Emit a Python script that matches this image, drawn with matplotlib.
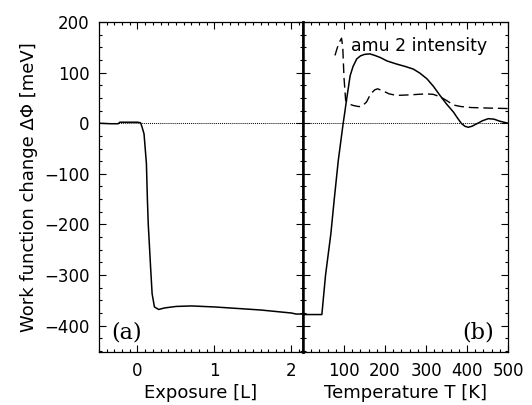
import matplotlib
matplotlib.use("Agg")
import matplotlib.pyplot as plt
from matplotlib.ticker import MultipleLocator

plt.rcParams['font.family'] = ['DejaVu Sans']

# Panel (a): work function change vs exposure
exposure = [-0.5, -0.35, -0.25, -0.23, 0.0, 0.04, 0.06, 0.085, 0.116, 0.129, 0.14,
            0.17, 0.19, 0.22, 0.275, 0.35, 0.5, 0.7, 1.0, 1.3, 1.6, 1.8, 2.0, 2.06, 2.15]
phi_a = [0, -1, -1, 2, 2, 1, -8, -21, -80, -152, -200,
         -284, -337, -363, -368, -365, -362, -361, -363, -366, -369, -372, -375, -377, -377]

# Panel (b): work function change vs temperature
temperature = [0, 46, 55, 68, 76, 86, 98, 102, 106, 115, 122, 131, 140, 150, 163, 175, 188,
               205, 228, 250, 269, 285, 302, 318, 334, 350, 367, 377, 387,
               395, 403, 412, 424, 438, 452, 466, 480, 490, 500]
phi_b = [-378, -378, -300, -218, -152, -74, 0, 22, 45, 94, 112, 127, 133, 136, 137, 134, 130,
         123, 117, 112, 107, 99, 88, 73, 55, 38, 22, 10, -1,
         -6, -8, -6, -1, 5, 9, 8, 4, 2, 0]

# amu 2 intensity (dashed)
temperature_amu = [78, 84, 90, 94, 97, 100, 104, 112, 123, 135, 143, 155, 165, 175, 182,
                   195, 210, 228, 260, 300, 318, 335, 350, 367, 385, 410, 450, 500]
amu2 = [134, 150, 162, 168, 150, 90, 45, 38, 35, 33, 33, 42, 58, 66, 68,
        64, 58, 55, 56, 58, 57, 52, 45, 36, 33, 31, 30, 29]

fig = plt.figure(figsize=(5.32, 4.05), dpi=100)
axa = fig.add_axes([99/532, 1-352/405, 204/532, 330/405])
axb = fig.add_axes([303/532, 1-352/405, 205/532, 330/405])

for ax in (axa, axb):
    ax.set_ylim(-452, 200)
    ax.axhline(0, color='black', lw=0.7, ls=(0, (1, 1)))
    ax.yaxis.set_major_locator(MultipleLocator(100))
    ax.yaxis.set_minor_locator(MultipleLocator(25))
    ax.tick_params(which='both', direction='in', top=True, right=True, labelsize=12,
                   width=0.8, pad=7)
    ax.tick_params(which='major', length=5)
    ax.tick_params(which='minor', length=2.5)
    for s in ax.spines.values():
        s.set_linewidth(0.9)

axa.plot(exposure, phi_a, color='black', lw=1.1)
axa.set_xlim(-0.5, 2.15)
axa.xaxis.set_major_locator(MultipleLocator(1))
axa.xaxis.set_minor_locator(MultipleLocator(0.1))
axa.set_xlabel('Exposure [L]', fontsize=13, labelpad=3)
axa.set_ylabel('Work function change ΔΦ [meV]', fontsize=13, labelpad=4)
axa.text(0.062, 0.042, '(a)', transform=axa.transAxes, fontsize=16,
         family='DejaVu Serif', ha='left', va='baseline')
axa.spines['right'].set_linewidth(1.8)

axb.plot(temperature, phi_b, color='black', lw=1.1)
axb.plot(temperature_amu, amu2, color='black', lw=1.0, dashes=(7, 3.5))
axb.set_xlim(0, 500)
axb.xaxis.set_major_locator(MultipleLocator(100))
axb.xaxis.set_minor_locator(MultipleLocator(20))
axb.set_xticks([100, 200, 300, 400, 500])
axb.tick_params(labelleft=False)
axb.set_xlabel('Temperature T [K]', fontsize=13, labelpad=3)
axb.spines['left'].set_linewidth(1.8)
axb.text(0.932, 0.042, '(b)', transform=axb.transAxes, fontsize=16,
         family='DejaVu Serif', ha='right', va='baseline')
axb.text(0.235, 0.955, 'amu 2 intensity', transform=axb.transAxes, fontsize=12.5,
         ha='left', va='top')

fig.savefig('out.png', dpi=100)
